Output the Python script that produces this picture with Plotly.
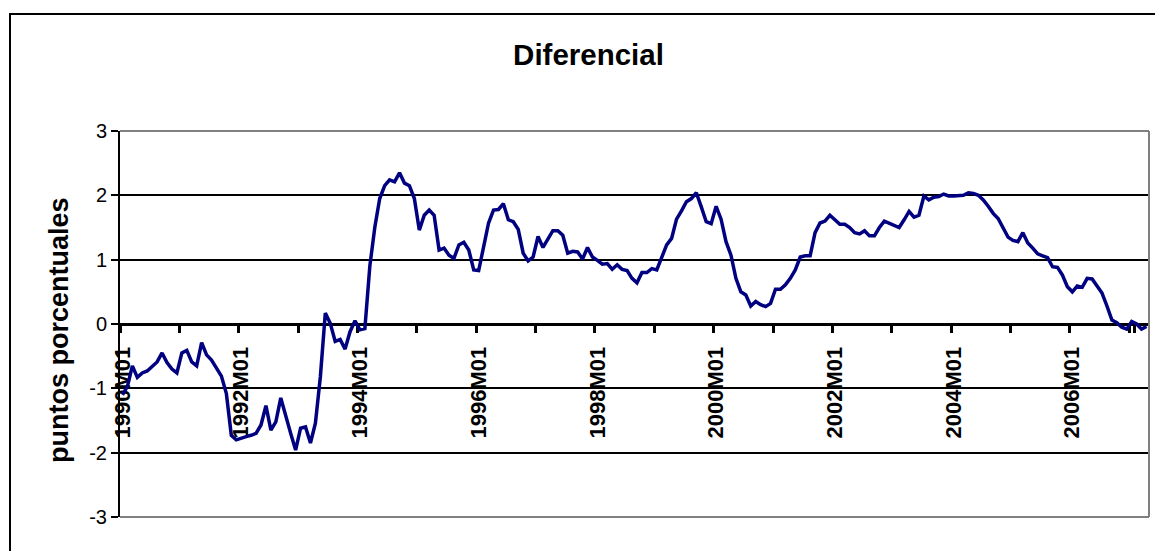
import plotly.graph_objects as go

# ---- data -------------------------------------------------------------
months = [f"{y}M{m:02d}" for y in range(1990, 2008) for m in range(1, 13)][:208]

diferencial = [
    -1.10, -0.97, -0.65, -0.83, -0.76, -0.73, -0.66, -0.59, -0.45, -0.60, -0.70, -0.76,   # 1990
    -0.45, -0.41, -0.59, -0.65, -0.29, -0.48, -0.56, -0.69, -0.81, -1.08, -1.73, -1.80,   # 1991
    -1.77, -1.75, -1.73, -1.70, -1.57, -1.27, -1.65, -1.52, -1.15, -1.45, -1.70, -1.96,   # 1992
    -1.62, -1.60, -1.85, -1.54, -0.82, 0.17, 0.01, -0.27, -0.24, -0.39, -0.12, 0.05,      # 1993
    -0.09, -0.07, 0.90, 1.50, 1.95, 2.15, 2.24, 2.21, 2.35, 2.19, 2.15, 1.95,             # 1994
    1.46, 1.69, 1.77, 1.69, 1.15, 1.18, 1.07, 1.02, 1.23, 1.27, 1.15, 0.84,               # 1995
    0.83, 1.20, 1.57, 1.77, 1.78, 1.87, 1.62, 1.59, 1.47, 1.10, 0.98, 1.04,               # 1996
    1.36, 1.19, 1.31, 1.45, 1.45, 1.38, 1.10, 1.13, 1.12, 1.01, 1.19, 1.04,               # 1997
    0.99, 0.93, 0.94, 0.85, 0.92, 0.85, 0.83, 0.71, 0.64, 0.80, 0.80, 0.86,               # 1998
    0.84, 1.02, 1.23, 1.33, 1.63, 1.76, 1.90, 1.95, 2.04, 1.82, 1.59, 1.56,               # 1999
    1.83, 1.63, 1.28, 1.07, 0.71, 0.50, 0.45, 0.28, 0.35, 0.30, 0.27, 0.32,               # 2000
    0.54, 0.54, 0.61, 0.71, 0.84, 1.04, 1.06, 1.06, 1.42, 1.57, 1.60, 1.69,               # 2001
    1.62, 1.55, 1.55, 1.50, 1.42, 1.40, 1.45, 1.37, 1.37, 1.50, 1.60, 1.57,               # 2002
    1.53, 1.50, 1.62, 1.75, 1.66, 1.69, 1.99, 1.93, 1.97, 1.98, 2.02, 1.99,               # 2003
    1.99, 1.99, 2.00, 2.04, 2.03, 2.00, 1.93, 1.83, 1.72, 1.64, 1.49, 1.35,               # 2004
    1.30, 1.28, 1.42, 1.26, 1.18, 1.09, 1.06, 1.03, 0.89, 0.88, 0.76, 0.58,               # 2005
    0.50, 0.59, 0.57, 0.71, 0.70, 0.59, 0.48, 0.28, 0.06, 0.02, -0.05, -0.08,             # 2006
    0.04, 0.00, -0.08, -0.04,                                                            # 2007
]

year_ticks = months[::12]
tick_labels = [f"<b>{m}</b>" if i % 2 == 0 else "" for i, m in enumerate(year_ticks)]
y_ticks = [-3, -2, -1, 0, 1, 2, 3]

FONT = "Liberation Sans, Arial, sans-serif"

W, H = 1155, 551
PL, PR, PT, PB = 120, 1149, 131, 517   # plot area in px
PW, PH = PR - PL, PB - PT


def px(xp):
    return (xp - PL) / PW


def py(yp):
    return (PB - yp) / PH


fig = go.Figure()
fig.add_trace(go.Scatter(
    x=months, y=diferencial, mode="lines",
    line=dict(color="#000080", width=3.5), hoverinfo="skip", showlegend=False,
))

fig.update_layout(
    width=W, height=H, autosize=False,
    margin=dict(l=PL, r=W - PR, t=PT, b=H - PB, pad=0),
    paper_bgcolor="white", plot_bgcolor="white",
    font=dict(family=FONT, color="black"),
    title=dict(text="<b>Diferencial</b>", x=588.5 / W, xref="container",
               y=1 - 55 / H, yref="container", xanchor="center", yanchor="middle",
               font=dict(size=29.5, family=FONT, color="black")),
    xaxis=dict(
        type="category", categoryorder="array", categoryarray=months,
        range=[-0.5, len(months) - 0.5],
        anchor="free", position=0.5,
        showline=True, linecolor="black", linewidth=3,
        tickmode="array", tickvals=year_ticks, ticktext=tick_labels,
        tickson="boundaries", ticks="outside", ticklen=7, tickwidth=3, tickcolor="black",
        tickangle=-90, tickfont=dict(size=22, family=FONT, color="black"),
        ticklabelstandoff=12,
        showgrid=False, zeroline=False, layer="below traces",
    ),
    yaxis=dict(
        range=[-3, 3], tickmode="array", tickvals=y_ticks,
        ticktext=[str(v) for v in y_ticks],
        showline=True, linecolor="black", linewidth=2,
        ticks="outside", ticklen=7, tickwidth=2, tickcolor="black",
        tickfont=dict(size=20, family=FONT, color="black"),
        showgrid=True, gridcolor="black", gridwidth=2, zeroline=False,
    ),
    shapes=[
        dict(type="line", xref="paper", yref="paper", x0=0, x1=1, y0=1, y1=1,
             line=dict(color="#808080", width=2), layer="above"),
        dict(type="line", xref="paper", yref="paper", x0=0, x1=1, y0=0, y1=0,
             line=dict(color="#808080", width=2), layer="above"),
        dict(type="line", xref="paper", yref="paper", x0=1, x1=1, y0=0, y1=1,
             line=dict(color="#808080", width=2), layer="above"),
        dict(type="rect", xref="paper", yref="paper",
             x0=px(10), x1=px(1200), y0=py(600), y1=py(14),
             line=dict(color="black", width=2), fillcolor="rgba(0,0,0,0)", layer="below"),
    ],
    annotations=[
        dict(text="<b>puntos porcentuales</b>", textangle=-90, showarrow=False,
             xref="paper", yref="paper", x=px(59), y=py(330),
             xanchor="center", yanchor="middle",
             font=dict(size=27, family=FONT, color="black")),
    ],
)

fig.write_html(
    "out.html",
    config={"displayModeBar": False, "staticPlot": True},
    post_script="document.body.style.margin='0';document.body.style.overflow='hidden';",
)
